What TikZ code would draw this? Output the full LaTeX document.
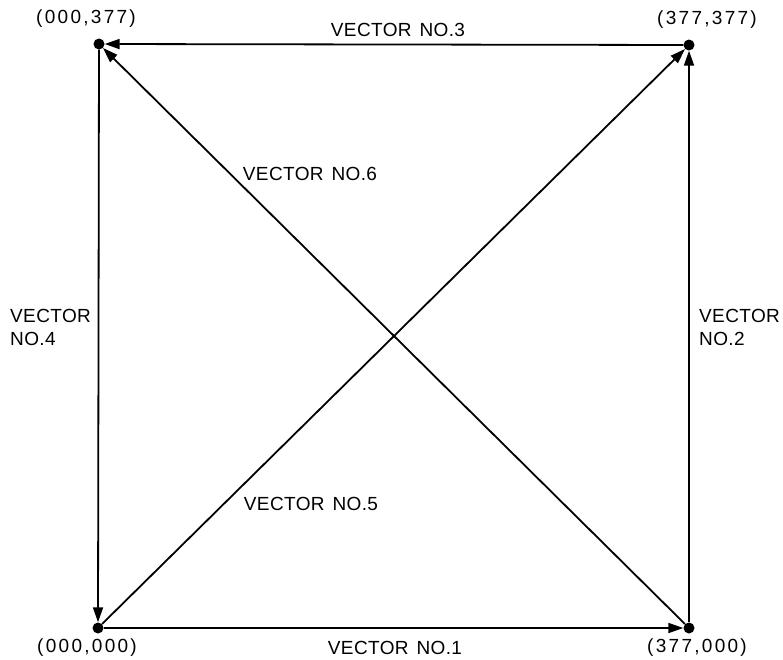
\documentclass[tikz,border=0pt]{standalone}
\usepackage{fontspec}
\setmainfont{Liberation Sans}
\newfontfamily\vecfont[LetterSpace=2,WordSpace=1.4]{Liberation Sans}
\newfontfamily\cornfont[LetterSpace=12]{Liberation Sans}
\usetikzlibrary{arrows.meta}
\begin{document}
\begin{tikzpicture}[x=1pt,y=-1pt,
  corner/.style={circle,fill=black,inner sep=0pt,minimum size=11pt},
  vec/.style={line width=1.8pt,-{Triangle[length=15pt,width=10pt]}},
  lbl/.style={font=\vecfont\fontsize{19}{23}\selectfont,inner sep=0pt},
  clbl/.style={font=\cornfont\fontsize{19}{23}\selectfont,inner sep=0pt},
  lbl2/.style={lbl,align=left}]
\useasboundingbox (0,0) rectangle (783,659);
\node[corner] (tl) at (99,44) {};
\node[corner] (tr) at (689,45) {};
\node[corner] (bl) at (98,628) {};
\node[corner] (br) at (689,628) {};
\draw[vec] (bl) -- (br);
\draw[vec] (br) -- (tr);
\draw[vec] (tr) -- (tl);
\draw[vec] (tl) -- (bl);
\draw[vec] (bl) -- (tr);
\draw[vec] (br) -- (tl);
\node[clbl] (ctl) at (86,19) {(000,377)};
\node[clbl] (ctr) at (707,20) {(377,377)};
\node[clbl] (cbl) at (87,648) {(000,000)};
\node[clbl] (cbr) at (697,648) {(377,000)};
\node[lbl] (v3) at (398,30) {VECTOR NO.3};
\node[lbl] (v1) at (395,648) {VECTOR NO.1};
\node[lbl] (v6) at (310,174) {VECTOR NO.6};
\node[lbl] (v5) at (311,504) {VECTOR NO.5};
\node[lbl2,anchor=west] (v4) at (10,327) {VECTOR\\NO.4};
\node[lbl2,anchor=west] (v2) at (699,327) {VECTOR\\NO.2};
\end{tikzpicture}
\end{document}
